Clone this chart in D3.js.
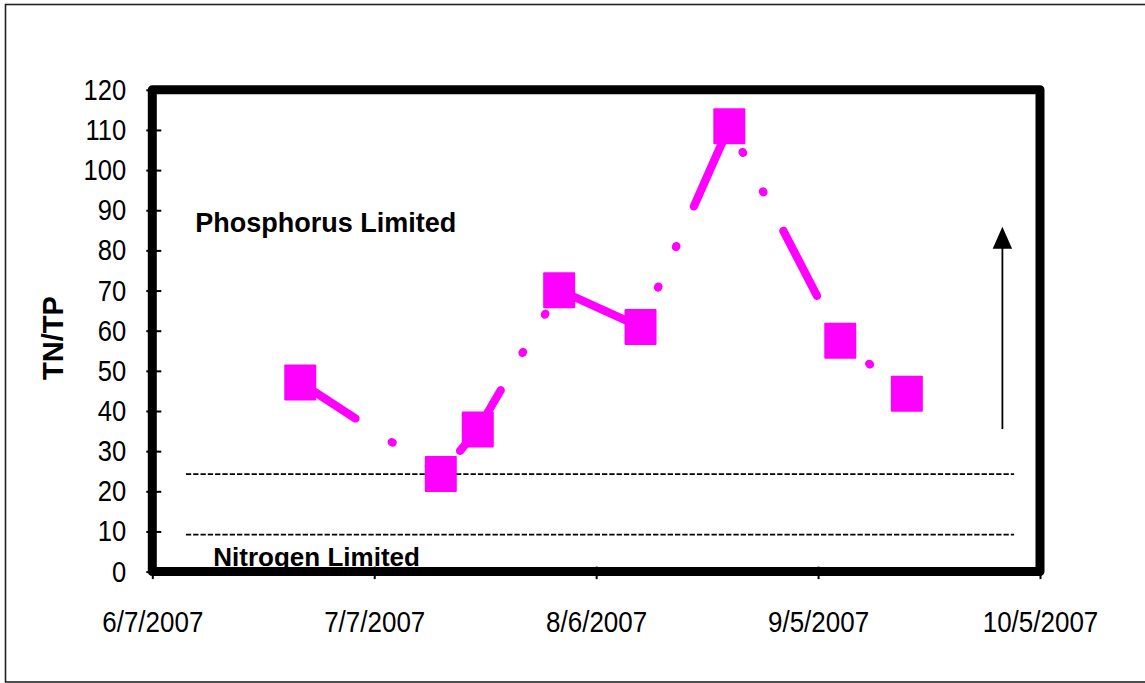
<!DOCTYPE html>
<html>
<head>
<meta charset="utf-8">
<script src="https://cdn.jsdelivr.net/npm/d3@7"></script>
<style>
  html, body { margin: 0; padding: 0; background: #fff; overflow: hidden; }
  svg { display: block; }
  text { font-family: "Liberation Sans", Arial, sans-serif; fill: #000; }
</style>
</head>
<body>
<svg id="chart" width="1145" height="683"></svg>
<script>
// ---- data ----
const sampleDates = ["6/27/2007", "7/16/2007", "7/21/2007", "8/1/2007", "8/12/2007", "8/24/2007", "9/8/2007", "9/17/2007"];
const tnTpValues  = [47.1, 24.3, 35.4, 70.1, 60.9, 110.9, 57.5, 44.3];
const xTickLabels = ["6/7/2007", "7/7/2007", "8/6/2007", "9/5/2007", "10/5/2007"];
const yTickValues = [0, 10, 20, 30, 40, 50, 60, 70, 80, 90, 100, 110, 120];
const thresholdValues = [24.3, 9.2];
const thresholdStart = "6/11/2007 13";
const thresholdEnd   = "10/1/2007 12";
const arrowDate = "9/29/2007 22";
const arrowFrom = 35.5, arrowTo = 85.9;
const annotationTexts  = ["Phosphorus Limited", "Nitrogen Limited"];
const annotationDates  = ["6/12/2007 19", "6/15/2007 06"];
const annotationValues = [84.6, 1.4];

const parse = d3.timeParse("%m/%d/%Y");
const parseH = d3.timeParse("%m/%d/%Y %H");
const points = sampleDates.map((d, i) => ({ date: parse(d), value: tnTpValues[i] }));
const annotations = annotationTexts.map((t, i) => ({ text: t, date: parseH(annotationDates[i]), value: annotationValues[i] }));
const annotationFontSize = [27, 26];

const svg = d3.select("#chart");
const MAG = "#FF00FF";

// outer chart border
svg.append("rect")
  .attr("x", 5.5).attr("y", 4.5).attr("width", 1160).attr("height", 677.5)
  .attr("fill", "none").attr("stroke", "#222").attr("stroke-width", 1.6);

const x = d3.scaleTime()
  .domain([parse(xTickLabels[0]), parse(xTickLabels[xTickLabels.length - 1])])
  .range([152.3, 1040]);
const y = d3.scaleLinear().domain([0, 120]).range([571.6, 89.8]);

// threshold dashed lines
svg.selectAll("line.thr").data(thresholdValues).enter().append("line")
  .attr("class", "thr")
  .attr("x1", x(parseH(thresholdStart))).attr("x2", x(parseH(thresholdEnd)))
  .attr("y1", d => y(d)).attr("y2", d => y(d))
  .attr("stroke", "#000").attr("stroke-width", 1.8)
  .attr("stroke-dasharray", "5.3,2");

// annotations
svg.selectAll("text.ann").data(annotations).enter().append("text")
  .attr("class", "ann")
  .attr("x", d => x(d.date)).attr("y", d => y(d.value))
  .attr("font-size", (d, i) => annotationFontSize[i]).attr("font-weight", "bold")
  .text(d => d.text);

// plot frame (drawn over Nitrogen label)
svg.append("rect")
  .attr("x", x.range()[0]).attr("y", y.range()[1])
  .attr("width", x.range()[1] - x.range()[0])
  .attr("height", y.range()[0] - y.range()[1])
  .attr("fill", "none").attr("stroke", "#000").attr("stroke-width", 9)
  .attr("stroke-linejoin", "round");

// y axis
const yAxis = svg.append("g").attr("transform", `translate(${x.range()[0]},0)`)
  .call(d3.axisLeft(y).tickValues(yTickValues).tickSize(6).tickSizeOuter(0).tickPadding(0));
yAxis.select(".domain").remove();
yAxis.selectAll(".tick line").attr("x1", -6).attr("x2", 9).attr("stroke", "#000").attr("stroke-width", 2);
yAxis.selectAll(".tick text")
  .attr("x", null).attr("dy", null)
  .attr("font-size", 25.6).attr("font-family", "Liberation Sans, Arial, sans-serif")
  .attr("text-anchor", "end")
  .attr("transform", "translate(-26,9.5) scale(1,1.12)");

// x axis
const xAxis = svg.append("g").attr("transform", `translate(0,${y.range()[0]})`)
  .call(d3.axisBottom(x).tickValues(xTickLabels.map(parse)).tickFormat(d3.timeFormat("%-m/%-d/%Y"))
    .tickSize(7).tickSizeOuter(0).tickPadding(0));
xAxis.select(".domain").remove();
xAxis.selectAll(".tick line").attr("y1", -5).attr("y2", 7.5).attr("stroke", "#000").attr("stroke-width", 2);
xAxis.selectAll(".tick text")
  .attr("y", null).attr("dy", null)
  .attr("font-size", 26).attr("font-family", "Liberation Sans, Arial, sans-serif")
  .attr("text-anchor", "middle")
  .attr("transform", "translate(0,60.5) scale(1,1.12)");

// y axis title
svg.append("text")
  .attr("transform", "translate(63,338) rotate(-90)")
  .attr("text-anchor", "middle")
  .attr("font-size", 29).attr("font-weight", "bold")
  .text("TN/TP");

// series line (long dash - dot - dot)
const line = d3.line().x(d => x(d.date)).y(d => y(d.value));
svg.append("path").datum(points)
  .attr("d", line)
  .attr("fill", "none").attr("stroke", MAG).attr("stroke-width", 8.3)
  .attr("stroke-linecap", "round").attr("stroke-linejoin", "round")
  .attr("stroke-dasharray", "73.2,43.3,1,43.3,1,43.4")
  .attr("stroke-dashoffset", 7.3);

// square markers
svg.selectAll("rect.mk").data(points).enter().append("rect")
  .attr("class", "mk")
  .attr("x", d => x(d.date) - 16).attr("y", d => y(d.value) - 18)
  .attr("width", 32).attr("height", 36).attr("rx", 1)
  .attr("fill", MAG);

// arrow
const ax = x(parseH(arrowDate));
svg.append("line")
  .attr("x1", ax).attr("x2", ax)
  .attr("y1", y(arrowFrom)).attr("y2", y(arrowTo) + 18)
  .attr("stroke", "#000").attr("stroke-width", 1.8);
svg.append("path")
  .attr("d", d3.line()([[ax, y(arrowTo)], [ax - 9.7, y(arrowTo) + 22], [ax + 9.7, y(arrowTo) + 22]]) + "Z")
  .attr("fill", "#000");
</script>
</body>
</html>
